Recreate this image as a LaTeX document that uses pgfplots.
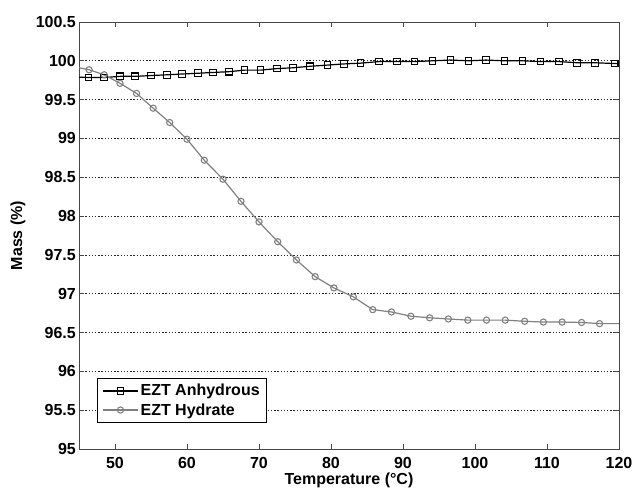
\documentclass[border=0pt]{standalone}
\usepackage{pgfplots}
\pgfplotsset{compat=1.18}
\usepackage{fontspec}
\setmainfont{Liberation Sans}
\definecolor{hyd}{RGB}{128,128,128}
\definecolor{axc}{RGB}{70,70,70}
\newcommand{\cf}{\fontsize{16}{19}\selectfont\bfseries}
\begin{document}
\begin{tikzpicture}[x=1pt,y=1pt]
\useasboundingbox (-79,-39) rectangle (554,449);
\begin{axis}[
  at={(0,0)}, anchor=south west,
  scale only axis, width=540pt, height=427pt,
  xmin=45, xmax=120, ymin=95, ymax=100.5,
  xtick={50,60,70,80,90,100,110,120},
  ytick={95,95.5,96,96.5,97,97.5,98,98.5,99,99.5,100,100.5},
  /pgf/number format/assume math mode=true,
  tick label style={font=\cf, text=black},
  xticklabel style={inner sep=0pt, anchor=north, yshift=-8pt},
  yticklabel style={inner sep=0pt, anchor=east, xshift=-3pt},
  tick align=inside, tick pos=both,
  major tick length=5pt,
  axis line style={axc, line width=0.8pt},
  every tick/.style={axc, line width=0.8pt},
  ymajorgrids,
  major grid style={black!85, line width=0.7pt, dash pattern=on 1.4pt off 1.8pt},
  xlabel={Temperature (\textdegree C)},
  ylabel={Mass (\%)},
  every axis x label/.style={at={(axis description cs:0.5,-0.0545)}, anchor=north, inner sep=0pt, font=\cf},
  every axis y label/.style={at={(axis description cs:-0.113,0.5)}, rotate=90, anchor=center, inner sep=0pt, font=\cf},
  legend style={at={(axis description cs:0.0333,0.061)}, anchor=south west,
    draw=black, line width=0.8pt, fill=white, font=\cf,
    inner xsep=5pt, inner ysep=4pt, row sep=2pt,
    /tikz/every even column/.append style={column sep=5pt}},
  legend cell align=left,
  legend image code/.code={\draw[#1, mark indices={2}] plot coordinates {(0pt,0pt) (17.5pt,0pt) (35pt,0pt)};},
]
\addplot[black, line width=1.2pt, mark=square, mark size=3.3pt,
  mark options={solid, line width=1.1pt}, mark indices={2,...,33}] coordinates {
(45.0,99.79) (46.3,99.785) (48.5,99.785) (50.7,99.80) (52.8,99.80) (55.0,99.81)
(57.2,99.82) (59.3,99.83) (61.5,99.84) (63.6,99.85) (65.8,99.86) (68.0,99.88)
(70.2,99.88) (72.5,99.90) (74.7,99.91) (77.1,99.93) (79.5,99.945) (81.8,99.96)
(84.1,99.97) (86.7,99.99) (89.2,99.99) (91.6,99.99) (94.1,100.0) (96.6,100.01)
(99.1,100.0) (101.5,100.01) (104.1,100.0) (106.6,100.0) (109.1,99.99) (111.7,99.99)
(114.2,99.975) (116.7,99.975) (119.4,99.965) (120,99.963)
};
\addlegendentry{EZT Anhydrous}
\addplot[hyd, line width=1.2pt, mark=o, mark size=3.1pt,
  mark options={solid, line width=1.1pt}, mark indices={2,...,30}] coordinates {
(45.0,99.91) (46.4,99.885) (48.5,99.82) (50.7,99.71) (53.0,99.58) (55.3,99.39)
(57.6,99.205) (60.0,98.99) (62.4,98.72) (65.0,98.475) (67.5,98.19) (70.0,97.925)
(72.6,97.67) (75.2,97.435) (77.8,97.22) (80.4,97.075) (83.1,96.96) (85.8,96.795)
(88.4,96.765) (91.1,96.71) (93.7,96.69) (96.3,96.675) (99.0,96.66) (101.6,96.66)
(104.2,96.66) (106.9,96.645) (109.5,96.635) (112.1,96.635) (114.8,96.63) (117.3,96.615)
(120,96.615)
};
\addlegendentry{EZT Hydrate}
\end{axis}
\end{tikzpicture}
\end{document}
